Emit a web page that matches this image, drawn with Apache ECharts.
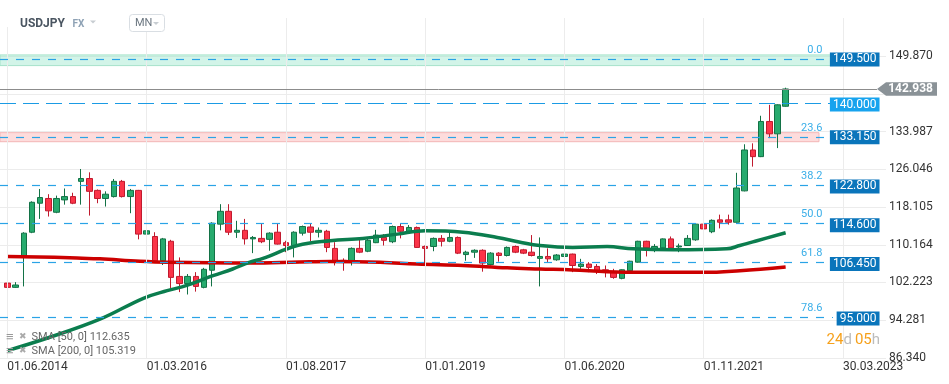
<!DOCTYPE html>
<html><head><meta charset="utf-8">
<script src="https://cdn.jsdelivr.net/npm/echarts@6/dist/echarts.min.js"></script>
<style>html,body{margin:0;padding:0;background:#fff}#c{width:949px;height:384px}</style>
</head><body><div id="c"></div>
<script>
// ---------------- DATA ----------------
const months = ['2014-10','2014-11','2014-12',
'2015-01','2015-02','2015-03','2015-04','2015-05','2015-06','2015-07','2015-08','2015-09','2015-10','2015-11','2015-12',
'2016-01','2016-02','2016-03','2016-04','2016-05','2016-06','2016-07','2016-08','2016-09','2016-10','2016-11','2016-12',
'2017-01','2017-02','2017-03','2017-04','2017-05','2017-06','2017-07','2017-08','2017-09','2017-10','2017-11','2017-12',
'2018-01','2018-02','2018-03','2018-04','2018-05','2018-06','2018-07','2018-08','2018-09','2018-10','2018-11','2018-12',
'2019-01','2019-02','2019-03','2019-04','2019-05','2019-06','2019-07','2019-08','2019-09','2019-10','2019-11','2019-12',
'2020-01','2020-02','2020-03','2020-04','2020-05','2020-06','2020-07','2020-08','2020-09','2020-10','2020-11','2020-12',
'2021-01','2021-02','2021-03','2021-04','2021-05','2021-06','2021-07','2021-08','2021-09','2021-10','2021-11','2021-12',
'2022-01','2022-02','2022-03','2022-04','2022-05','2022-06','2022-07','2022-08','2022-09'];
const opens  = [102.1,101.2,107.7,112.8,118.9,119.9,117.0,119.6,120.3,123.5,124.1,121.6,119.9,120.3,123.5,120.3,121.6,112.4,111.9,106.8,
110.9,103.5,102.0,103.5,101.2,104.8,114.5,117.2,112.8,113.2,111.4,111.5,111.3,112.8,110.6,110.0,112.6,113.9,112.8,113.0,
109.4,106.9,106.5,109.4,108.8,110.6,111.7,110.8,114.0,113.0,113.8,109.8,109.8,111.5,110.9,111.7,108.1,108.6,109.0,106.0,
108.4,107.9,109.8,109.1,108.6,107.3,107.7,107.0,107.7,108.2,105.6,106.1,105.6,104.9,104.5,103.1,104.7,106.5,110.9,109.4,
109.5,111.4,109.7,110.0,111.2,114.5,112.9,115.4,115.4,114.9,121.5,130.1,128.7,136.1,133.5,139.3];
const closes = [101.2,101.7,112.6,119.1,120.1,117.3,119.9,120.3,118.9,124.1,121.4,119.9,120.8,123.5,120.3,121.6,112.4,113.1,106.8,111.4,
103.3,102.0,103.5,101.4,105.0,114.7,117.2,112.8,113.2,111.4,111.7,110.8,112.6,110.3,110.0,112.8,114.0,112.8,113.2,109.6,
106.6,106.6,109.4,108.6,111.1,112.2,111.1,114.0,113.0,113.8,109.6,109.4,111.5,110.9,111.7,108.4,108.6,109.0,106.3,108.4,
107.9,109.6,108.6,108.4,107.9,107.7,107.2,108.0,108.2,105.8,106.1,105.4,104.6,104.4,103.3,104.9,106.7,110.9,109.5,109.8,
111.4,109.5,109.9,111.5,114.5,113.5,115.3,114.9,114.9,122.1,130.1,128.7,136.1,133.5,139.6,142.938];
const lows   = [101.1,101.1,101.4,112.6,115.6,116.1,116.8,118.6,118.7,118.6,116.3,118.9,118.2,120.1,120.1,116.8,111.3,110.8,106.6,105.9,
101.0,100.2,99.7,100.3,101.0,101.4,113.2,112.2,111.6,110.2,108.4,110.5,108.9,110.2,108.6,107.5,112.1,110.9,111.7,108.6,
105.8,104.7,105.8,108.4,108.6,110.5,110.0,110.5,111.5,112.6,109.5,106.3,108.8,109.8,110.7,108.2,106.8,107.4,104.5,105.8,
106.6,107.7,108.4,108.2,107.7,101.4,106.5,106.8,106.5,104.4,105.1,104.4,104.0,103.3,103.0,102.9,104.5,106.4,107.7,108.6,
109.4,109.3,108.6,109.9,111.0,112.8,112.6,113.6,114.4,114.8,121.4,126.6,128.6,132.6,130.5,139.2];
const highs  = [103.0,102.3,112.8,119.3,121.9,120.8,120.5,122.0,121.1,126.1,125.4,121.8,121.4,124.0,123.8,121.9,121.7,114.7,112.8,111.6,
111.2,107.5,104.0,104.4,105.3,114.9,118.7,118.7,115.2,115.6,112.0,114.7,112.8,114.7,111.0,113.0,114.2,114.7,113.8,113.3,
110.7,107.3,109.6,111.4,111.4,113.3,112.4,114.2,114.7,114.3,114.0,110.0,111.7,112.2,112.8,111.9,108.9,109.2,109.2,108.6,
108.6,109.8,110.0,109.3,112.2,111.7,109.4,108.2,109.3,108.3,107.2,106.5,106.1,105.8,105.1,105.0,106.8,111.0,111.0,110.3,
111.5,111.9,110.4,112.2,114.6,115.6,115.5,116.5,116.5,125.3,131.3,131.5,137.3,139.6,139.7,143.2];
// SMA(50) and SMA(200): [candle index, value]
const sma50  = [[0,87.9],[5,90.6],[11.3,94.5],[16.6,98.9],[19.5,100.5],[21.9,101.6],[25.1,103.65],[27.5,105.06],[29.6,106.5],
[31.2,107.3],[35.4,110.0],[39.4,111.0],[43.4,111.5],[47.6,112.4],[51,113.1],[55.6,112.8],[59.8,111.7],[62.6,110.7],[65,110.0],
[69,109.6],[73.2,109.8],[76.4,109.3],[81.3,109.1],[87.8,109.3],[89.4,110.0],[91.5,111.0],[95,112.7]];
const sma200 = [[0,107.7],[8.5,107.4],[11.3,107.2],[16.2,106.7],[19.5,106.5],[29.6,106.35],[35.7,106.55],[39.4,106.65],[45.5,106.5],
[50,106.1],[55.6,105.8],[61,105.3],[65,105.07],[69,104.86],[73.2,104.5],[77.2,104.36],[85,104.36],[89.4,104.72],[95,105.5]];
const xTickIdx = [0,17,34,51,68,85,102];
const xTickLabels = ['01.06.2014','01.03.2016','01.08.2017','01.01.2019','01.06.2020','01.11.2021','30.03.2023'];
const yTickLabels = ['86.340','94.281','102.223','110.164','118.105','126.046','133.987','141.928','149.870'];
// Fibonacci retracement lines (as drawn) and their labels
const fibLevels = [149.2,132.87,122.77,114.6,106.43,94.81];
const fibLabels = ['0.0','23.6','38.2','50.0','61.8','78.6'];
// horizontal price levels and their tags
const levelValues = [149.5,140.0,133.15,122.8,114.6,106.45,95.0];
const levelLabels = ['149.500','140.000','133.150','122.800','114.600','106.450','95.000'];
const greenZone = [147.85,150.1];
const redZone = [131.84,133.74];
const lastPrice = 142.938;
const smaLegend = ['SMA [50, 0] 112.635','SMA [200, 0] 105.319'];

// ---------------- LAYOUT ----------------
const X_MIN = -0.9, X_MAX = 107.25, Y_MIN = 86.34, Y_MAX = 157.865;
const LINE_END = 100.78, PINK_END = 99.07, FIB_LABEL_X = 99.56, BOX_X = 106.52, ARROW_X = 106.15;
const FONT = 'Roboto';

const candles = opens.map((o,i)=>[i,o,closes[i],lows[i],highs[i]]);
const yTickVals = yTickLabels.map(Number);

const chart = echarts.init(document.getElementById('c'), null, {renderer:'canvas'});
const option = {
  animation:false,
  textStyle:{fontFamily:FONT},
  grid:{left:0,right:63,top:18,bottom:26,containLabel:false},
  xAxis:{type:'value',min:X_MIN,max:X_MAX,
    axisLine:{show:false},axisTick:{show:false},splitLine:{show:false},
    axisLabel:{customValues:xTickIdx,align:'left',margin:3,fontSize:12,color:'#333',fontFamily:FONT,
      formatter:v=>{const k=xTickIdx.indexOf(Math.round(v));return k>=0?xTickLabels[k]:'';}}},
  yAxis:{type:'value',position:'right',min:Y_MIN,max:Y_MAX,scale:true,
    axisLine:{show:false},
    axisTick:{show:false,customValues:yTickVals},
    splitLine:{show:true,lineStyle:{color:'#ececec',width:1}},
    axisLabel:{customValues:yTickVals.filter(v=>Math.abs(v-141.928)>0.01),align:'left',margin:3,fontSize:12,color:'#333',fontFamily:FONT,
      formatter:v=>v.toFixed(3)}},
  series:[
    {type:'line',name:'vgrid',data:[],z:0,silent:true,
      markLine:{silent:true,symbol:['none','none'],label:{show:false},
        lineStyle:{color:'#ececec',type:'solid',width:1},
        data:xTickIdx.map(v=>({xAxis:v}))}},
    {type:'candlestick',name:'USDJPY',data:candles,z:2,barWidth:6,clip:false,
      itemStyle:{color:'#27ab6e',color0:'#fb3448',borderColor:'#137246',borderColor0:'#c01a2e',borderColorDoji:'#137246',borderWidth:1}},
    {type:'line',name:'SMA200',data:sma200,z:3,smooth:0.4,symbol:'none',
      lineStyle:{color:'#cc0000',width:3.5}},
    {type:'line',name:'SMA50',data:sma50,z:3,smooth:0.4,symbol:'none',
      lineStyle:{color:'#0b7d4e',width:3.5}},
    {type:'line',name:'fib',data:[],z:4,silent:true,
      markLine:{silent:true,symbol:['none','none'],label:{show:false},
        lineStyle:{color:'#2aa3e6',type:[8,8],width:1.2},
        data:fibLevels.map(v=>[{coord:[X_MIN,v]},{coord:[LINE_END,v]}]).concat(
          [[{coord:[X_MIN,levelValues[1]],lineStyle:{color:'#1b9be4',type:[16,7],width:1.2}},{coord:[LINE_END,levelValues[1]]}]])}},
    {type:'line',name:'zones',data:[],z:5,silent:true,
      markArea:{silent:true,
        data:[
          [{coord:[X_MIN,greenZone[1]],itemStyle:{color:'rgba(130,225,192,0.36)',borderColor:'#a6e3ca',borderWidth:1}},{coord:[LINE_END,greenZone[0]]}],
          [{coord:[X_MIN,redZone[1]],itemStyle:{color:'rgba(250,178,178,0.45)',borderColor:'#f3b6b6',borderWidth:1}},{coord:[PINK_END,redZone[0]]}]
        ]}},
    {type:'line',name:'last',data:[],z:6,silent:true,
      markLine:{silent:true,symbol:['none','none'],label:{show:false},
        lineStyle:{color:'#8c8c8c',type:'solid',width:1},
        data:[[{coord:[X_MIN,lastPrice]},{coord:[ARROW_X,lastPrice]}]]}},
    {type:'line',name:'labels',data:[],z:7,silent:true,
      markPoint:{silent:true,symbol:'rect',symbolSize:1,itemStyle:{color:'rgba(0,0,0,0)'},
        data:levelValues.map((v,i)=>({name:levelLabels[i],coord:[BOX_X,v],
          label:{show:true,position:'left',distance:0,offset:[0,1.7],formatter:'{b}',color:'#fff',fontSize:12,fontFamily:FONT,
            lineHeight:12,padding:[1,3,1,3],backgroundColor:(v===140?'#17a3ee':'#0a75bb')}})).concat(
          fibLevels.map((v,i)=>({name:fibLabels[i],coord:[FIB_LABEL_X,v],
          label:{show:true,position:'left',distance:0,offset:[0,-9],formatter:'{b}',color:'#3aaee8',fontSize:11,fontFamily:FONT}})))}}
  ]
};
chart.setOption(option);

const yP = chart.convertToPixel({yAxisIndex:0}, lastPrice);
chart.setOption({graphic:[
  {type:'rect',z:50,shape:{x:0,y:0,width:172,height:27},style:{fill:'#fff'}},
  {type:'text',z:51,x:20,y:23.5,style:{text:'USDJPY',fontSize:12,fontWeight:'bold',fill:'#4a5561',fontFamily:FONT,verticalAlign:'middle'}},
  {type:'text',z:51,x:72.5,y:24,style:{text:'FX',fontSize:10,fontWeight:'bold',fill:'#8ea2b5',fontFamily:FONT,verticalAlign:'middle'}},
  {type:'polygon',z:51,shape:{points:[[90,20.5],[96,20.5],[93,23.5]]},style:{fill:'#c8cdd2'}},
  {type:'rect',z:51,shape:{x:129.5,y:14.5,width:35,height:17,r:3},style:{fill:'#fff',stroke:'#d9dee3',lineWidth:1}},
  {type:'text',z:52,x:135,y:23.5,style:{text:'MN',fontSize:11,fill:'#6b7680',fontFamily:FONT,verticalAlign:'middle'}},
  {type:'polygon',z:52,shape:{points:[[153,22],[159,22],[156,25]]},style:{fill:'#c8cdd2'}},
  {type:'text',z:51,x:6,y:337,style:{text:'≡',fontSize:13,fill:'#9a9a9a',verticalAlign:'middle'}},
  {type:'text',z:51,x:19,y:336.5,style:{text:'✖',fontSize:9,fill:'#aaaaaa',verticalAlign:'middle'}},
  {type:'text',z:51,x:31.5,y:337.5,style:{text:smaLegend[0],fontSize:11,fill:'#666',fontFamily:FONT,verticalAlign:'middle'}},
  {type:'text',z:51,x:6,y:351,style:{text:'≡',fontSize:13,fill:'#9a9a9a',verticalAlign:'middle'}},
  {type:'text',z:51,x:19,y:350.5,style:{text:'✖',fontSize:9,fill:'#aaaaaa',verticalAlign:'middle'}},
  {type:'text',z:51,x:31.5,y:351.5,style:{text:smaLegend[1],fontSize:11,fill:'#666',fontFamily:FONT,verticalAlign:'middle'}},
  {type:'text',z:51,x:880,y:340,style:{text:'{o|24}{g|d} {o|05}{g|h}',align:'right',verticalAlign:'middle',fontFamily:FONT,
    rich:{o:{fontSize:15,fill:'#f6a01a',fontFamily:FONT},g:{fontSize:15,fill:'#bcbcbc',fontFamily:FONT}}}},
  {type:'polygon',z:51,shape:{points:[[877,yP],[886,yP-6.7],[937,yP-6.7],[937,yP+6.7],[886,yP+6.7]]},style:{fill:'#8a9297'}},
  {type:'text',z:52,x:933,y:yP,style:{text:lastPrice.toFixed(3),align:'right',verticalAlign:'middle',fontSize:12,fontWeight:'bold',fill:'#fff',fontFamily:FONT}}
]});
</script></body></html>
